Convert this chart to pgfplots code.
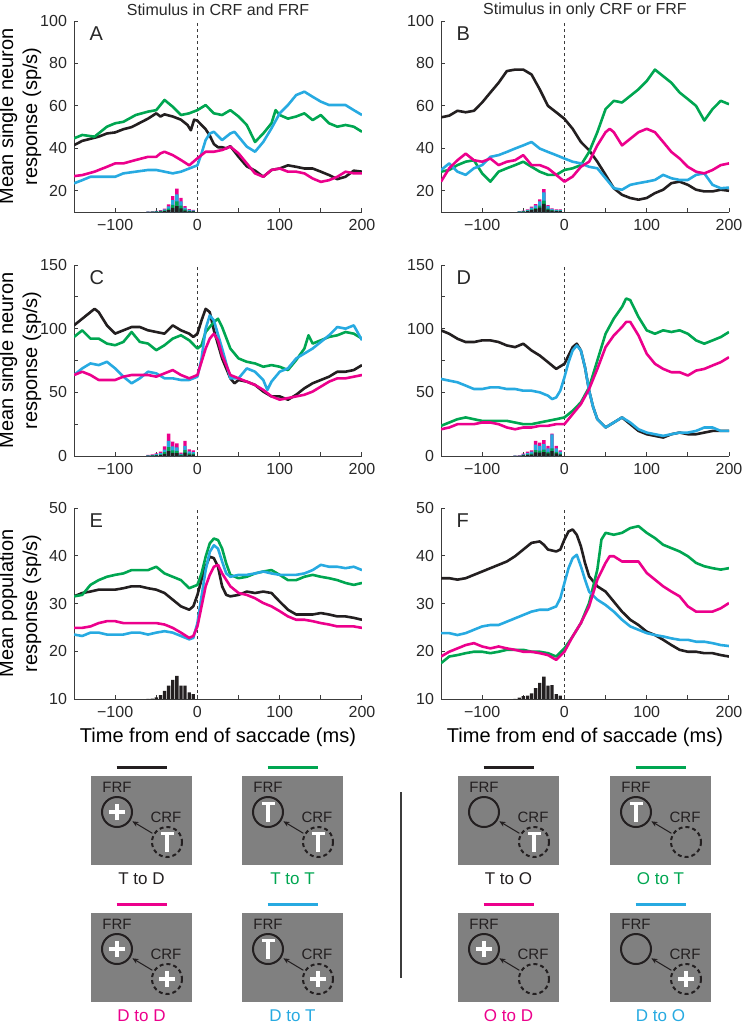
\documentclass[border=0pt]{standalone}
\usepackage{fontspec}
\setmainfont{Liberation Sans}
\usepackage{pgfplots}
\pgfplotsset{compat=1.18}
\usetikzlibrary{arrows.meta}

\definecolor{cK}{RGB}{35,31,32}
\definecolor{cG}{RGB}{0,166,81}
\definecolor{cC}{RGB}{39,170,225}
\definecolor{cM}{RGB}{236,0,140}
\definecolor{axgray}{RGB}{60,60,60}
\definecolor{txt}{RGB}{40,40,40}
\definecolor{boxgray}{RGB}{128,128,128}

\pgfplotsset{
  panel/.style={
    scale only axis, width=144pt, height=95.5pt, anchor=north west,
    xmin=-150, xmax=200,
    axis x line*=bottom, axis y line*=left,
    axis line style={draw=axgray, line width=0.5pt, -},
    tick align=inside, major tick length=2pt, minor tick length=2pt,
    every tick/.style={draw=axgray, line width=0.5pt},
    xtick={-100,0,100,200}, xticklabels={−100,0,100,200},
    minor xtick={-150,-50,50,150},
    /pgf/number format/assume math mode=true,
    tick label style={font=\fontsize{8}{9}\selectfont, text=txt},
    label style={font=\fontsize{8}{9.5}\selectfont, text=txt},
    every axis y label/.style={at={(axis description cs:-0.1875,0.5)}, rotate=90, anchor=center, align=center},
    every axis x label/.style={at={(axis description cs:0.5,0)}, yshift=-19pt, anchor=center},
  },
  tr/.style={#1, line width=1.3pt, line join=round},
  hist/.style={ybar, bar width=4, bar shift=0pt, draw=none, fill=#1},
  zero/.style={axgray, line width=0.5pt, dash pattern=on 1.6pt off 1.4pt},
}
\newcommand{\plet}[1]{\node[anchor=west, font=\fontsize{10}{11}\selectfont, text=txt] at (rel axis cs:0.03,0.935) {#1};}

\newcommand{\symT}{\draw[white,line width=1.75pt] (-6.5,-8.5) -- (6.5,-8.5) (0,-8.5) -- (0,9.5);}
\newcommand{\symP}{\draw[white,line width=1.75pt] (-8,0) -- (8,0) (0,-8) -- (0,8);}
\newcommand{\symN}{}
% x, y (px), FRF symbol, CRF symbol, colour, label
\newcommand{\stimbox}[6]{%
  \begin{scope}[shift={(#1,#2)}]
    \fill[boxgray] (0,0) rectangle (101,89);
    \draw[#5, line width=1.5pt] (25.5,-9) -- (75.5,-9);
    \node[text=#5, font=\fontsize{8.5}{9}\selectfont] at (50.5,103) {#6};
    \node[text=cK, font=\fontsize{7.5}{8}\selectfont] at (26,11) {FRF};
    \node[text=cK, font=\fontsize{7.5}{8}\selectfont] at (75,41) {CRF};
    \draw[cK, line width=1pt] (26,36) circle[radius=15];
    \draw[cK, line width=1pt, dash pattern=on 2pt off 1.5pt] (76,66) circle[radius=15];
    \draw[cK, line width=0.5pt, -{Stealth[length=3pt,width=2.6pt]}] (61.4,57.3) -- (41.4,45.3);
    \begin{scope}[shift={(26,36)}]#3\end{scope}
    \begin{scope}[shift={(76,66)}]#4\end{scope}
  \end{scope}}

\begin{document}
\begin{tikzpicture}
\useasboundingbox (0,0) rectangle (370.5pt,-512pt);

% column titles
\node[font=\fontsize{8}{9}\selectfont, text=txt] at (109pt,-5pt) {Stimulus in CRF and FRF};
\node[font=\fontsize{8}{9}\selectfont, text=txt] at (292.5pt,-5pt) {Stimulus in only CRF or FRF};

% ---------------- A ----------------
\begin{axis}[panel, at={(37pt,-10.5pt)}, ymin=10, ymax=100, ytick={20,40,60,80,100},
  ylabel={Mean single neuron\\response (sp/s)}]
\addplot[hist=cM] coordinates {(-60,10.2)(-55,10.3)(-50,10.5)(-45,10.9)(-40,11.6)(-35,13.6)(-30,17.5)(-25,21)(-20,16.7)(-15,12.8)(-10,11.3)(-5,11)};
\addplot[hist=cC] coordinates {(-60,10.15)(-55,10.23)(-50,10.38)(-45,10.68)(-40,11.2)(-35,12.7)(-30,15.6)(-25,18.25)(-20,15)(-15,12.1)(-10,10.98)(-5,10.75)};
\addplot[hist=cG] coordinates {(-60,10.09)(-55,10.14)(-50,10.23)(-45,10.41)(-40,10.72)(-35,11.62)(-30,13.4)(-25,14.95)(-20,13)(-15,11.26)(-10,10.59)(-5,10.45)};
\addplot[hist=cK] coordinates {(-60,10.05)(-55,10.08)(-50,10.13)(-45,10.23)(-40,10.4)(-35,10.9)(-30,11.9)(-25,12.75)(-20,11.7)(-15,10.7)(-10,10.33)(-5,10.25)};
\addplot[zero] coordinates {(0,10)(0,100)};
\addplot[tr=cK] coordinates {(-150,41.5)(-140,43.5)(-130,44.5)(-120,45.5)(-110,47)(-100,47.5)(-90,49)(-80,50)(-70,52)(-60,54)(-50,56.5)(-45,55)(-40,56)(-30,55)(-20,53.5)(-12,51)(-8,48.5)(-4,53.5)(0,53)(5,51)(10,49)(15,46)(20,42)(25,40.5)(30,40.5)(35,40)(40,41)(45,38.5)(50,36)(60,31.5)(70,29.5)(80,26.6)(90,29.8)(100,30.5)(110,32)(120,31.3)(130,30.5)(140,30.5)(150,29)(160,27.4)(170,25.5)(180,26.6)(190,29.5)(200,29)};
\addplot[tr=cG] coordinates {(-150,44.7)(-140,46.3)(-125,45.5)(-110,50.2)(-100,51.8)(-90,52.5)(-75,55.7)(-60,57.3)(-50,58)(-40,62.8)(-30,59.6)(-20,55.7)(-10,56.5)(0,58)(10,60.4)(20,56.5)(30,55.7)(40,58)(50,55)(60,51)(70,43)(80,47)(90,51.8)(95,58)(100,55.7)(110,54)(120,55)(130,56.5)(140,53.3)(150,55.7)(160,51.8)(170,50.2)(180,51)(190,50.2)(200,47.8)};
\addplot[tr=cC] coordinates {(-150,23.5)(-140,25)(-130,26.6)(-110,26.6)(-100,26.6)(-90,28.2)(-75,29)(-60,29.8)(-50,29.8)(-40,29)(-30,28.2)(-20,29)(-10,30.5)(0,32)(5,37.6)(10,43.9)(15,47)(20,47.8)(30,43.9)(40,47)(45,47.8)(50,45.5)(60,40.8)(70,38.4)(80,43)(90,49.4)(100,56.5)(110,60.4)(120,65.1)(130,66.7)(140,64.3)(150,62)(160,60.4)(170,60.4)(180,60.4)(190,58)(200,55.7)};
\addplot[tr=cM] coordinates {(-150,26.9)(-140,27.4)(-125,29)(-110,31.3)(-100,32.9)(-90,32.9)(-75,34.5)(-60,36)(-50,36)(-45,37.6)(-40,38.4)(-30,36.8)(-20,34.5)(-10,32)(0,35.3)(10,38.4)(20,38.4)(30,39.2)(40,40.8)(50,37.6)(60,32.9)(70,28.2)(80,26.6)(90,29.8)(100,30.5)(110,29)(120,29)(130,28.2)(140,25.8)(150,24.2)(160,25)(170,26.6)(180,29)(190,28.2)(200,28.2)};
\plet{A}
\end{axis}

% ---------------- B ----------------
\begin{axis}[panel, at={(220.5pt,-10.5pt)}, ymin=10, ymax=100, ytick={20,40,60,80,100}]
\addplot[hist=cM] coordinates {(-55,10.3)(-50,10.6)(-45,11.2)(-40,12.5)(-35,13.7)(-30,15.9)(-25,20.8)(-20,13.3)(-15,11.7)(-10,11.2)(-5,11.2)};
\addplot[hist=cC] coordinates {(-55,10.25)(-50,10.51)(-45,11.02)(-40,12.1)(-35,13.1)(-30,15)(-25,19.2)(-20,12.8)(-15,11.45)(-10,11.02)(-5,11.02)};
\addplot[hist=cG] coordinates {(-55,10.15)(-50,10.3)(-45,10.6)(-40,11.25)(-35,11.85)(-30,13)(-25,15.4)(-20,11.65)(-15,10.85)(-10,10.6)(-5,10.6)};
\addplot[hist=cK] coordinates {(-55,10.1)(-50,10.21)(-45,10.42)(-40,10.88)(-35,11.3)(-30,12.1)(-25,13.8)(-20,11.15)(-15,10.6)(-10,10.42)(-5,10.42)};
\addplot[zero] coordinates {(0,10)(0,100)};
\addplot[tr=cK] coordinates {(-150,54.6)(-140,55.4)(-130,57.7)(-120,57)(-110,57.7)(-100,61.6)(-90,66.3)(-80,70.9)(-70,76.4)(-60,77.1)(-50,77.1)(-40,74.8)(-30,67.8)(-20,60)(-10,57)(0,53.9)(10,49.2)(20,43)(30,39.1)(40,33.7)(50,27.5)(60,21.2)(70,18.1)(80,16.6)(90,15.8)(100,16.6)(110,18.9)(120,20.5)(130,23.6)(140,24.3)(150,22.8)(160,20.5)(170,19.7)(180,19.7)(190,20.5)(200,20)};
\addplot[tr=cG] coordinates {(-150,29)(-140,29.8)(-130,32.1)(-120,33.7)(-110,34.4)(-100,28.2)(-90,24.3)(-80,29)(-70,30.6)(-60,32.1)(-50,33.7)(-40,31.3)(-30,29)(-20,27.5)(-10,27.5)(0,29.8)(10,30.6)(20,32.1)(30,38.3)(40,47.6)(50,58.5)(60,62.4)(70,61.6)(80,64.7)(90,67.8)(100,71.7)(110,77.1)(120,74)(130,70.9)(140,66.3)(150,63.2)(160,60)(170,53.1)(180,58.5)(190,62.4)(200,60.8)};
\addplot[tr=cC] coordinates {(-150,29.8)(-140,32.9)(-130,29)(-120,27.5)(-110,30.6)(-100,32.1)(-90,36)(-80,36.8)(-70,38.3)(-60,39.9)(-50,41.4)(-40,43)(-30,39.9)(-20,38.3)(-10,36.8)(0,35.2)(10,33.7)(20,32.9)(30,31.3)(40,30.6)(50,25.9)(60,21.2)(70,20.5)(80,22.8)(90,23.6)(100,24.3)(110,25.1)(120,27.5)(130,25.9)(140,25.1)(150,25.1)(160,27.5)(170,28.2)(180,22.8)(190,21.2)(200,21.5)};
\addplot[tr=cM] coordinates {(-150,24.3)(-140,30.6)(-130,34.4)(-120,37.5)(-110,34.4)(-100,33.7)(-90,35.2)(-80,32.1)(-70,33.7)(-60,34.4)(-50,36.8)(-40,32.1)(-30,32.1)(-20,30.6)(-10,27.5)(0,24.3)(10,26.7)(20,31.3)(30,33.7)(40,41.4)(50,47.6)(55,49.2)(60,47.6)(70,41.4)(80,44.5)(90,47.6)(100,49.2)(110,47.6)(120,43)(130,38.3)(140,35.2)(150,31.3)(160,29)(170,28.2)(180,29.8)(190,32.1)(200,32.9)};
\plet{B}
\end{axis}

% ---------------- C ----------------
\begin{axis}[panel, at={(37pt,-132.5pt)}, ymin=0, ymax=150, ytick={0,50,100,150}, minor ytick={25,75,125},
  ylabel={Mean single neuron\\response (sp/s)}]
\addplot[hist=cM] coordinates {(-60,0.8)(-55,1.3)(-50,2.1)(-45,3.4)(-40,7.6)(-35,17.6)(-30,11.3)(-25,10)(-20,2.6)(-15,11.8)(-10,5.3)(-5,4.5)};
\addplot[hist=cC] coordinates {(-60,0.54)(-55,0.87)(-50,1.41)(-45,2.28)(-40,5.1)(-35,11.8)(-30,7.6)(-25,6.7)(-20,1.74)(-15,7.9)(-10,3.55)(-5,3)};
\addplot[hist=cG] coordinates {(-60,0.32)(-55,0.52)(-50,0.84)(-45,1.36)(-40,3.04)(-35,7)(-30,4.5)(-25,4)(-20,1.04)(-15,4.7)(-10,2.12)(-5,1.8)};
\addplot[hist=cK] coordinates {(-60,0.18)(-55,0.29)(-50,0.46)(-45,0.75)(-40,1.67)(-35,3.9)(-30,2.5)(-25,2.2)(-20,0.57)(-15,2.6)(-10,1.17)(-5,1)};
\addplot[zero] coordinates {(0,0)(0,150)};
\addplot[tr=cK] coordinates {(-150,102.6)(-140,107.8)(-130,113)(-125,115.6)(-120,113)(-110,102.6)(-100,96.1)(-90,98.7)(-80,101.3)(-70,101.3)(-60,98.7)(-50,97.4)(-40,96.1)(-30,102.6)(-20,98.7)(-10,96.1)(-5,93.5)(0,96.1)(5,106.5)(10,115.6)(15,113)(20,98.7)(30,76.6)(40,61)(45,57.1)(50,59.7)(60,58.4)(70,55.8)(80,50.6)(90,46.8)(100,46.8)(110,44.2)(120,48.1)(130,53.2)(140,57.1)(150,59.7)(160,62.3)(170,66.2)(180,66.2)(190,67.5)(200,71.4)};
\addplot[tr=cG] coordinates {(-150,93.5)(-140,98.7)(-130,92.2)(-120,92.2)(-110,88.3)(-100,87)(-90,89.6)(-80,97.4)(-70,89.6)(-60,88.3)(-50,83.1)(-40,87)(-30,92.2)(-20,94.8)(-10,90.9)(0,84.4)(5,87)(10,97.4)(20,105.2)(25,107.8)(30,101.3)(40,84.4)(50,76.6)(60,74)(70,72.7)(80,70.1)(90,71.4)(100,70.1)(110,67.5)(120,75.3)(130,84.4)(135,94.8)(140,88.3)(150,90.9)(160,93.5)(170,94.8)(180,97.4)(190,96.1)(200,92.2)};
\addplot[tr=cC] coordinates {(-150,63.6)(-140,68.8)(-130,72.7)(-120,71.4)(-110,74)(-100,68.8)(-90,62.3)(-80,57.1)(-70,61)(-60,66.2)(-50,64.9)(-40,61)(-30,61)(-20,59.7)(-10,59.7)(0,62.3)(5,76.6)(10,100)(15,110.4)(20,106.5)(30,84.4)(40,61)(50,61)(60,68.8)(70,66.2)(80,59.7)(85,51.9)(90,58.4)(100,66.2)(110,68.8)(120,76.6)(130,80.5)(140,84.4)(150,89.6)(160,94.8)(170,101.3)(180,100)(190,102.6)(200,90.9)};
\addplot[tr=cM] coordinates {(-150,63.6)(-140,66.2)(-130,63.6)(-120,59.7)(-110,59.7)(-100,59.7)(-90,62.3)(-80,63.6)(-70,63.6)(-60,63.6)(-50,62.3)(-40,64.9)(-30,67.5)(-20,63.6)(-10,61)(0,63.6)(5,74)(10,84.4)(15,92.2)(20,96.1)(25,90.9)(30,79.2)(40,63.6)(50,61)(60,58.4)(70,55.8)(80,51.9)(90,46.8)(100,44.2)(110,45.5)(120,46.8)(130,48.1)(140,50.6)(150,54.5)(160,58.4)(170,61)(180,61)(190,62.3)(200,63.6)};
\plet{C}
\end{axis}

% ---------------- D ----------------
\begin{axis}[panel, at={(220.5pt,-132.5pt)}, ymin=0, ymax=150, ytick={0,50,100,150}, minor ytick={25,75,125}]
\addplot[hist=cM] coordinates {(-60,0.3)(-55,0.5)(-50,1.8)(-45,3.4)(-40,4.5)(-35,11.8)(-30,10.5)(-25,12.4)(-20,7.9)(-15,17.6)(-10,7.9)(-5,4.5)};
\addplot[hist=cC] coordinates {(-60,0.22)(-55,0.38)(-50,1.35)(-45,2.55)(-40,3.4)(-35,8.85)(-30,7.9)(-25,9.3)(-20,5.9)(-15,17)(-10,5.9)(-5,3.4)};
\addplot[hist=cG] coordinates {(-60,0.12)(-55,0.2)(-50,0.72)(-45,1.36)(-40,1.8)(-35,4.7)(-30,4.2)(-25,5)(-20,3.2)(-15,6)(-10,3.2)(-5,1.8)};
\addplot[hist=cK] coordinates {(-60,0.08)(-55,0.13)(-50,0.45)(-45,0.85)(-40,1.1)(-35,2.95)(-30,2.6)(-25,3.1)(-20,2)(-15,3.9)(-10,2)(-5,1.1)};
\addplot[zero] coordinates {(0,0)(0,150)};
\addplot[tr=cK] coordinates {(-150,98.7)(-140,96)(-130,92.1)(-120,89.5)(-110,89.5)(-100,90.8)(-90,90.8)(-80,89.5)(-70,86.8)(-60,85.5)(-50,88.2)(-40,82.9)(-30,78.9)(-20,73.7)(-10,68.4)(0,72.4)(5,78.9)(10,85.5)(15,88.2)(20,82.9)(25,69.7)(30,51.3)(35,38.2)(40,28.9)(50,22.4)(60,26.3)(70,30.3)(80,25)(90,19.7)(100,17.1)(110,15.8)(120,14.5)(130,17.1)(140,18.4)(150,17.1)(160,17.1)(170,18.4)(180,19.7)(190,19.7)(200,19.7)};
\addplot[tr=cG] coordinates {(-150,23.7)(-140,26.3)(-130,28.9)(-120,30.3)(-110,28.9)(-100,27.6)(-90,27.6)(-80,27.6)(-70,27.6)(-60,26.3)(-50,25)(-40,25)(-30,26.3)(-20,27.6)(-10,28.9)(0,30.3)(10,35.5)(20,42.1)(30,53.9)(40,75)(50,96)(60,107.9)(70,117.1)(75,123.7)(80,122.4)(90,109.2)(100,98.7)(110,96)(120,98.7)(130,97.4)(140,98.7)(150,96)(160,90.8)(170,88.2)(180,90.8)(190,93.4)(200,97.4)};
\addplot[tr=cC] coordinates {(-150,60.5)(-140,59.2)(-130,57.9)(-120,55.3)(-110,52.6)(-100,52.6)(-90,53.9)(-80,53.9)(-70,52.6)(-60,52.6)(-50,51.3)(-40,51.3)(-30,50)(-20,47.4)(-15,44.7)(-10,46)(-5,51.3)(0,61.8)(5,73.7)(10,82.9)(15,86.8)(20,82.9)(25,69.7)(30,51.3)(35,38.2)(40,28.9)(50,22.4)(60,26.3)(70,30.3)(80,26.3)(90,21)(100,18.4)(110,17.1)(120,15.8)(130,17.1)(140,18.4)(150,18.4)(160,19.7)(170,22.4)(180,22.4)(190,19.7)(200,19.7)};
\addplot[tr=cM] coordinates {(-150,21)(-140,22.4)(-130,25)(-120,25)(-110,25)(-100,26.3)(-90,26.3)(-80,25)(-70,22.4)(-60,21)(-50,22.4)(-40,22.4)(-30,23.7)(-20,23.7)(-10,25)(0,25)(10,32.9)(20,40.8)(30,52.6)(40,68.4)(50,85.5)(60,94.7)(70,101.3)(75,105.3)(80,105.3)(90,94.7)(100,80.3)(110,72.4)(120,68.4)(130,65.8)(140,65.8)(150,63.2)(160,67.1)(170,68.4)(180,71.1)(190,73.7)(200,77.6)};
\plet{D}
\end{axis}

% ---------------- E ----------------
\begin{axis}[panel, at={(37pt,-254pt)}, ymin=10, ymax=50, ytick={10,20,30,40,50},
  ylabel={Mean population\\response (sp/s)}, xlabel={Time from end of saccade (ms)}]
\addplot[hist=cK] coordinates {(-60,10.05)(-55,10.1)(-50,10.35)(-45,10.8)(-40,11.7)(-35,12.8)(-30,14)(-25,14.85)(-20,12.8)(-15,12.8)(-10,11.4)(-5,11)};
\addplot[zero] coordinates {(0,10)(0,50)};
\addplot[tr=cK] coordinates {(-150,31.5)(-140,32.2)(-130,32.5)(-120,32.9)(-110,32.9)(-100,32.9)(-90,33.2)(-80,33.6)(-70,33.6)(-60,33.2)(-50,32.9)(-40,32.2)(-30,30.8)(-20,29.4)(-10,28.7)(-5,29.4)(0,31.8)(5,35)(10,37.7)(15,39.8)(20,39.5)(25,37.7)(30,33.6)(35,31.8)(40,31.5)(50,31.8)(60,32.5)(70,32.2)(80,32.5)(90,32.2)(100,30.4)(110,28.7)(120,27.7)(130,27.7)(140,27.7)(150,28)(160,27.7)(170,27.3)(180,27.3)(190,27)(200,26.6)};
\addplot[tr=cG] coordinates {(-150,31.5)(-140,31.8)(-130,33.9)(-120,34.9)(-110,35.6)(-100,36)(-90,36.3)(-80,37)(-70,37)(-60,37)(-50,37.7)(-40,36.3)(-30,35.6)(-20,34.9)(-10,33.2)(0,33.9)(5,36.3)(10,39.8)(15,42.6)(20,43.6)(25,43.3)(30,41.5)(35,38.4)(40,36)(50,35.3)(60,35.6)(70,36.3)(80,36.7)(90,37)(100,36)(110,34.9)(120,34.9)(130,35.6)(140,36)(150,35.6)(160,35.3)(170,34.9)(180,34.3)(190,33.9)(200,34.3)};
\addplot[tr=cC] coordinates {(-150,23.5)(-140,23.2)(-130,23.9)(-120,23.9)(-110,23.5)(-100,23.5)(-90,23.5)(-80,23.9)(-70,23.9)(-60,23.5)(-50,23.9)(-40,24.2)(-30,23.9)(-20,23.2)(-10,22.5)(-5,22.8)(0,25.9)(5,31.5)(10,37)(15,40.8)(20,42.2)(25,41.5)(30,38.8)(35,36.3)(40,35.6)(50,36)(60,36)(70,36.3)(80,36.7)(90,36.3)(100,36)(110,36)(120,36)(130,36.3)(140,37)(150,38.1)(160,37.7)(170,37.7)(180,37.4)(190,37.7)(200,37)};
\addplot[tr=cM] coordinates {(-150,24.9)(-140,24.9)(-130,25.2)(-120,25.9)(-110,26.3)(-100,26.3)(-90,25.9)(-80,25.9)(-70,25.9)(-60,25.9)(-50,25.9)(-40,25.6)(-30,24.9)(-20,23.9)(-10,22.8)(-5,23.2)(0,25.2)(5,29.4)(10,33.6)(15,36)(20,37.7)(25,38.1)(30,36.3)(40,33.6)(50,32.2)(60,31.8)(70,31.1)(80,30.1)(90,29.4)(100,28.4)(110,27.3)(120,26.6)(130,26.6)(140,26.3)(150,25.9)(160,25.6)(170,25.2)(180,25.2)(190,25.2)(200,24.9)};
\plet{E}
\end{axis}

% ---------------- F ----------------
\begin{axis}[panel, at={(220.5pt,-254pt)}, ymin=10, ymax=50, ytick={10,20,30,40,50},
  xlabel={Time from end of saccade (ms)}]
\addplot[hist=cK] coordinates {(-60,10.05)(-55,10.3)(-50,10.6)(-45,10.7)(-40,11.2)(-35,12.3)(-30,13.4)(-25,14.7)(-20,12.8)(-15,12.9)(-10,11)(-5,10.7)};
\addplot[zero] coordinates {(0,10)(0,50)};
\addplot[tr=cK] coordinates {(-150,35.3)(-140,35.3)(-130,35)(-120,35.3)(-110,36)(-100,36.7)(-90,37.4)(-80,38.1)(-70,38.8)(-60,39.9)(-50,41.3)(-40,42.7)(-30,43)(-25,42.3)(-20,41.3)(-10,40.9)(-5,41.3)(0,43.4)(5,45.1)(10,45.5)(15,44.4)(20,42)(25,38.5)(30,35.7)(40,33.6)(50,32.5)(60,30.4)(70,28.3)(80,26.6)(90,25.5)(100,24.1)(110,23.4)(120,22.4)(130,21.3)(140,20.3)(150,19.9)(160,19.9)(170,19.6)(180,19.6)(190,19.2)(200,18.9)};
\addplot[tr=cG] coordinates {(-150,17.5)(-140,18.9)(-130,19.2)(-120,19.6)(-110,19.9)(-100,19.9)(-90,19.6)(-80,19.9)(-70,20.3)(-60,20.3)(-50,20.3)(-40,19.9)(-30,19.9)(-20,19.6)(-10,18.9)(0,20.6)(10,23.1)(20,25.9)(30,30.1)(40,37.1)(45,43.4)(50,44.8)(60,44.4)(70,44.8)(80,45.8)(90,46.2)(100,44.8)(110,43.7)(120,42.3)(130,41.6)(140,40.9)(150,39.9)(160,38.5)(170,37.8)(180,37.4)(190,37.1)(200,37.4)};
\addplot[tr=cC] coordinates {(-150,23.8)(-140,23.8)(-130,23.4)(-120,23.8)(-110,24.5)(-100,25.2)(-90,25.5)(-80,25.5)(-70,26.2)(-60,26.9)(-50,27.6)(-40,28.3)(-30,28.7)(-20,28.7)(-10,29.4)(-5,31.1)(0,34.3)(5,37.4)(10,39.5)(15,40.2)(20,37.8)(25,35)(30,32.5)(40,30.8)(50,29.7)(60,28.3)(70,26.6)(80,25.2)(90,24.5)(100,23.8)(110,23.4)(120,23.1)(130,22.7)(140,22.4)(150,22.4)(160,22)(170,22)(180,21.7)(190,21.3)(200,21.1)};
\addplot[tr=cM] coordinates {(-150,18.9)(-140,19.9)(-130,20.6)(-120,21.3)(-110,21.7)(-100,21)(-90,20.6)(-80,21)(-70,20.6)(-60,20.3)(-50,19.9)(-40,19.9)(-30,19.6)(-20,19.2)(-10,18.2)(0,19.9)(10,23.1)(20,25.9)(30,29.4)(40,35)(50,38.5)(55,39.9)(60,39.9)(70,38.8)(80,38.8)(90,38.8)(100,36.4)(110,35)(120,33.6)(130,32.5)(140,31.5)(150,29.4)(160,28.3)(170,28.3)(180,28.3)(190,29)(200,30.1)};
\plet{F}
\end{axis}

% ---------------- stimulus schematics ----------------
\begin{scope}[x=0.5pt, y=-0.5pt]
  \stimbox{91}{776}{\symP}{\symT}{cK}{T to D}
  \stimbox{242}{776}{\symT}{\symT}{cG}{T to T}
  \stimbox{458}{776}{\symN}{\symT}{cK}{T to O}
  \stimbox{610}{776}{\symT}{\symN}{cG}{O to T}
  \stimbox{91}{913}{\symP}{\symP}{cM}{D to D}
  \stimbox{242}{913}{\symT}{\symP}{cC}{D to T}
  \stimbox{458}{913}{\symP}{\symN}{cM}{O to D}
  \stimbox{610}{913}{\symN}{\symP}{cC}{D to O}
  \draw[axgray, line width=0.6pt] (401,792) -- (401,978);
\end{scope}
\end{tikzpicture}
\end{document}
